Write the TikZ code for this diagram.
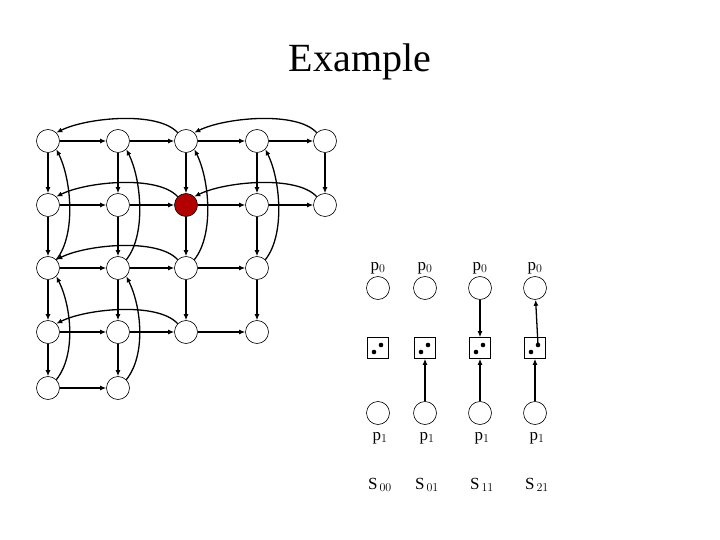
\documentclass[tikz,border=0pt]{standalone}
\usepackage{fontspec}
\setmainfont{Liberation Serif}
\usetikzlibrary{arrows.meta}
\begin{document}
\begin{tikzpicture}[x=1pt,y=-1pt,
  vtx/.style={circle,draw,line width=0.6pt,minimum size=23pt,inner sep=0pt,fill=white},
  hot/.style={vtx,fill=red!70!black},
  box/.style={draw,line width=0.6pt,minimum size=21pt,inner sep=0pt},
  arr/.style={-{Latex[length=6pt,width=5pt]},line width=1.3pt},
  lbl/.style={font=\fontsize{17}{17}\selectfont}]
\useasboundingbox (0,0) rectangle (720,540);
\node[font=\fontsize{40}{40}\selectfont] (title) at (360,62) {Example};
% grid
\def\xs{{48,118,186,257,325}}
\def\ys{{141,205,268,332,388}}
\foreach \c/\r in {0/0,1/0,2/0,3/0,4/0,0/1,1/1,3/1,4/1,0/2,1/2,2/2,3/2,0/3,1/3,2/3,3/3,0/4,1/4}{
  \pgfmathsetmacro\xx{\xs[\c]}\pgfmathsetmacro\yy{\ys[\r]}
  \node[vtx] (n\c\r) at (\xx,\yy) {};}
\node[hot] (n21) at (186,205) {};
% horizontal
\foreach \a/\b/\r in {0/1/0,1/2/0,2/3/0,3/4/0,0/1/1,1/2/1,2/3/1,3/4/1,0/1/2,1/2/2,2/3/2,0/1/3,1/2/3,2/3/3,0/1/4}
  \draw[arr] (n\a\r) -- (n\b\r);
% vertical
\foreach \c/\a/\b in {0/0/1,0/1/2,0/2/3,0/3/4,1/0/1,1/1/2,1/2/3,1/3/4,2/0/1,2/1/2,2/2/3,3/0/1,3/1/2,3/2/3,4/0/1}
  \draw[arr] (n\c\a) -- (n\c\b);
% horizontal back arcs
\foreach \a/\b/\r in {2/0/0,4/2/0,2/0/1,4/2/1,2/0/2,2/0/3}
  \draw[arr] (n\a\r.north west) .. controls +(-20,-22) and +(30,-15) .. (n\b\r.north east);
% vertical back arcs
\foreach \c/\a/\b in {0/2/0,1/2/0,2/2/0,3/2/0,0/4/2,1/4/2}
  \draw[arr] (n\c\a.north east) .. controls +(20,-25) and +(15,30) .. (n\c\b.south east);
% right panel
\foreach \i/\x/\s in {0/378/00,1/425/01,2/480/11,3/535/21}{
  \node[vtx] (t\i) at (\x,288) {};
  \node[box] (b\i) at (\x,348) {};
  \fill (\x-4,352) circle (2.3pt) (\x+3,345) circle (2.3pt);
  \node[vtx] (u\i) at (\x,413) {};
  \node[lbl] (pa\i) at (\x,268) {p$_0$};
  \node[lbl] (pb\i) at (\x+2,438) {p$_1$};
  \node[lbl] (s\i) at (\x+2,485) {S$_{\,\s}$};
}
\foreach \i in {1,2,3} \draw[arr] (u\i) -- (b\i);
\draw[arr] (t2) -- (b2);
\coordinate (d3) at (538,345);
\draw[arr] (d3) -- (t3);
\end{tikzpicture}
\end{document}
